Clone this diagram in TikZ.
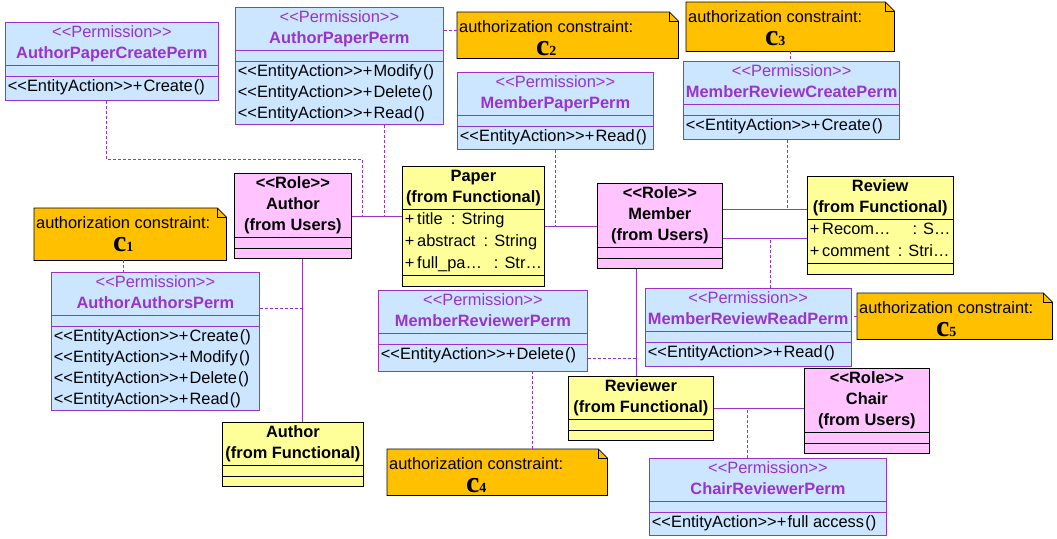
\documentclass[tikz,border=0pt]{standalone}
\usepackage{fontspec}
\setmainfont{Liberation Sans}
\newfontfamily\cfont{Liberation Serif}
\usetikzlibrary{shapes.multipart,positioning}

\definecolor{umlpurple}{HTML}{9933CC}
\definecolor{permblue}{HTML}{CCE6FF}
\definecolor{rolepink}{HTML}{FFC4FF}
\definecolor{funcyellow}{HTML}{FFFF99}
\definecolor{noteorange}{HTML}{FFC000}

\newcommand\umlfont{\fontsize{16.4}{21}\selectfont}
\newcommand\stereo[1]{<\kern0pt<#1>\kern0pt>}
\newcommand\ctab[1]{\begin{tabular}{@{}c@{}}#1\end{tabular}}
\newcommand\ltab[1]{\begin{tabular}{@{}l@{}}#1\end{tabular}}
\newcommand\op[1]{\stereo{EntityAction}+\kern1.2pt#1\kern1.2pt()}
\newcommand\permhead[1]{\ctab{\textcolor{umlpurple}{\stereo{Permission}}\\\textcolor{umlpurple}{\textbf{#1}}}}
\newcommand\rolehead[1]{\ctab{\textbf{\stereo{Role}}\\\textbf{#1}\\\textbf{(from Users)}}}
\newcommand\funchead[1]{\ctab{\textbf{#1}\\\textbf{(from Functional)}}}
\newcommand\cons[1]{\ctab{authorization constraint:\\[2.5pt]\cfont\bfseries\fontsize{30}{30}\selectfont c\fontsize{14}{14}\selectfont #1}}

\begin{document}
\begin{tikzpicture}[x=1pt,y=-1pt,
        umlbox/.style={rectangle split, rectangle split parts=3,
            rectangle split part align={center,left,left},
            rectangle split empty part height=10pt,
            rectangle split empty part depth=0pt,
            anchor=north west, inner xsep=2.5pt, inner ysep=0pt,
            line width=0.8pt, font=\umlfont},
        perm/.style={umlbox, draw=umlpurple, fill=permblue},
        role/.style={umlbox, draw=black, fill=rolepink},
        func/.style={umlbox, draw=black, fill=funcyellow},
        notebox/.style={rectangle, anchor=north west, inner sep=0pt},
        notebody/.style={draw=black, fill=noteorange, line width=0.7pt},
        notetext/.style={inner sep=0pt, font=\umlfont},
        assoc/.style={draw=umlpurple, line width=0.8pt},
        link/.style={draw=umlpurple, line width=0.8pt, dash pattern=on 3pt off 2pt}]
        \path[use as bounding box, fill=white] (0,0) rectangle (1057,538);

        % Права
        \node[perm, minimum width=213pt] (apcp) at (5,22) {\permhead{AuthorPaperCreatePerm}\nodepart{three}\ltab{\op{Create}\rule[-9pt]{0pt}{1pt}}};
        \node[perm, minimum width=208pt] (app) at (235,7) {\permhead{AuthorPaperPerm}\nodepart{three}\ltab{\op{Modify}\\\op{Delete}\\\op{Read}}};
        \node[perm, minimum width=196pt] (mpp) at (457,72) {\permhead{MemberPaperPerm}\nodepart{three}\ltab{\op{Read}\rule[-8pt]{0pt}{1pt}}};
        \node[perm, minimum width=215pt] (mrcp) at (683,61) {\permhead{MemberReviewCreatePerm}\nodepart{three}\ltab{\op{Create}\rule[-9pt]{0pt}{1pt}}};
        \node[perm, minimum width=208pt] (aap) at (51,272) {\permhead{AuthorAuthorsPerm}\nodepart{three}\ltab{\op{Create}\\\op{Modify}\\\op{Delete}\\\op{Read}}};
        \node[perm, minimum width=209pt] (mrp) at (378,290) {\permhead{MemberReviewerPerm}\nodepart{three}\ltab{\op{Delete}\rule[-12pt]{0pt}{1pt}}};
        \node[perm, minimum width=202pt] (mrrp) at (645,288) {\permhead{MemberReviewReadPerm}\nodepart{three}\ltab{\op{Read}\rule[-9pt]{0pt}{1pt}}};
        \node[perm, minimum width=237pt] (crp) at (649,458) {\permhead{ChairReviewerPerm}\nodepart{three}\ltab{\op{full access}\rule[-8pt]{0pt}{1pt}}};

        % Роли
        \node[role, minimum width=117pt] (author) at (234,173) {\rolehead{Author}};
        \node[role, minimum width=125pt] (member) at (597,183) {\rolehead{Member}};
        \node[role, minimum width=125pt] (chair) at (804,368) {\rolehead{Chair}};

        % Классы
        \node[func, minimum width=142pt] (paper) at (402,166) {\funchead{Paper}\nodepart{two}{\renewcommand\arraystretch{1.04}\ltab{+\,title\enspace: String\\+\,abstract\enspace: String\\+\,full\_pa…\hspace{12pt}: Str…}}};
        \node[func, minimum width=142pt] (review) at (807,176) {\funchead{Review}\nodepart{two}{\renewcommand\arraystretch{1.04}\ltab{+\,Recom…\hspace{22pt}: S…\\+\,comment\enspace: Stri…}}};
        \node[func, minimum width=145pt] (reviewer) at (568,376) {\funchead{Reviewer}};
        \node[func, minimum width=141pt] (authorf) at (222,422) {\funchead{Author}};

        % Ограничения
        \node[notebox, minimum width=192pt, minimum height=52pt] (c1) at (34,208) {};
        \node[notebox, minimum width=221pt, minimum height=46pt] (c2) at (457,12) {};
        \node[notebox, minimum width=208pt, minimum height=49pt] (c3) at (686,2) {};
        \node[notebox, minimum width=220pt, minimum height=46pt] (c4) at (387,449) {};
        \node[notebox, minimum width=195pt, minimum height=46pt] (c5) at (857,293) {};
        \foreach \n in {c1,c2,c3,c4,c5} {
            \draw[notebody] (\n.north west) -- ([xshift=-9pt]\n.north east) -- ([yshift=-9pt]\n.north east) -- (\n.south east) -- (\n.south west) -- cycle;
            \draw[notebody, fill=none] ([xshift=-9pt]\n.north east) |- ([yshift=-9pt]\n.north east);
        }
        \node[notetext, below right=5.5pt and 2pt of c1.north west] (c1t) {\cons{1}};
        \node[notetext, below right=5.5pt and 2pt of c2.north west] (c2t) {\cons{2}};
        \node[notetext, below right=5.5pt and 2pt of c3.north west] (c3t) {\cons{3}};
        \node[notetext, below right=5.5pt and 2pt of c4.north west] (c4t) {\cons{4}};
        \node[notetext, below right=5.5pt and 2pt of c5.north west] (c5t) {\cons{5}};

        % Ассоциации
        \coordinate (authv) at ([xshift=9.5pt]author.south);
        \coordinate (apA) at ([xshift=11pt]author.east);
        \coordinate (apB) at ([xshift=33pt]author.east);
        \coordinate (mrA) at ([yshift=17pt]member.east);
        \coordinate (mrB) at ([yshift=-12pt]member.east);
        \coordinate (memv) at ([xshift=-23.5pt]member.south);
        \draw[assoc] (author.east) -- (author.east -| paper.west);
        \draw[assoc] (authv) -- (authv |- authorf.north);
        \draw[assoc] (paper.east) -- (paper.east -| member.west);
        \draw[assoc] (mrA) -- (mrA -| review.west);
        \draw[assoc] (mrB) -- (mrB -| review.west);
        \draw[assoc] (memv) -- (memv |- reviewer.north);
        \draw[assoc] (reviewer.east) -- (reviewer.east -| chair.west);

        % Пунктирные связи
        \draw[link] ([xshift=-5.5pt]apcp.south) |- ([yshift=57pt]apA) -- (apA);
        \draw[link] (app.south -| apB) -- (apB);
        \draw[link] ([yshift=5pt]c2.west) -- ([yshift=5pt]c2.west -| app.east);
        \draw[link] (mpp.south) -- (mpp.south |- paper.east);
        \draw[link] (c3.south) -- (c3.south |- mrcp.north);
        \draw[link] ([xshift=-4.5pt]mrcp.south) -- ([xshift=-4.5pt]mrcp.south |- mrA);
        \draw[link] ([xshift=22pt]mrrp.north) -- ([xshift=22pt]mrrp.north |- mrB);
        \draw[link] (c5.west) -- (c5.west -| mrrp.east);
        \draw[link] ([yshift=14pt]mrp.south east) -- ([yshift=14pt]mrp.south east -| memv);
        \draw[link] ([xshift=35pt]c4.north) -- ([xshift=35pt]c4.north |- mrp.south);
        \draw[link] ([xshift=-20.5pt]crp.north) -- ([xshift=-20.5pt]crp.north |- reviewer.east);
        \draw[link] ([yshift=-36pt]aap.north east) -- ([yshift=-36pt]aap.north east -| authv);
        \draw[link] ([xshift=-7pt]c1.south) -- ([xshift=-7pt]c1.south |- aap.north);
    \end{tikzpicture}
\end{document}
